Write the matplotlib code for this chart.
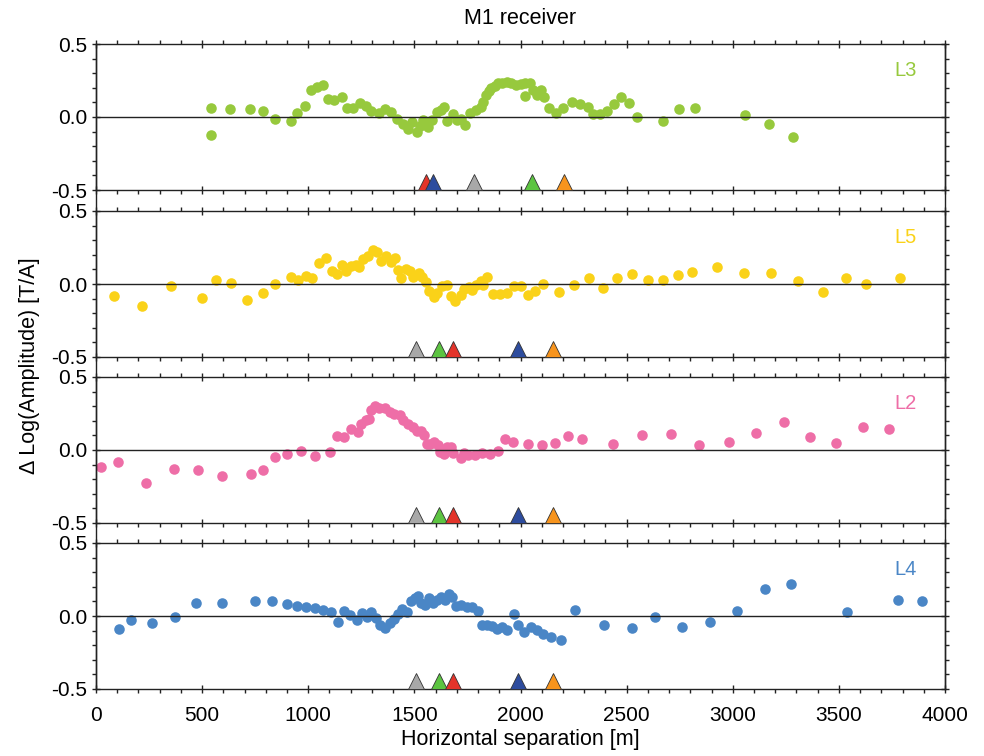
import numpy as np
import matplotlib
matplotlib.use('Agg')
import matplotlib.pyplot as plt
from matplotlib.ticker import MultipleLocator, FormatStrFormatter
from matplotlib.transforms import offset_copy
from matplotlib.lines import Line2D

plt.rcParams['font.family'] = ['Liberation Sans', 'DejaVu Sans']

# --- L3 profile
l3_x = [542, 542, 631, 726, 785, 845, 919, 947, 985, 1013, 1040, 1071, 1095, 1123,
        1158, 1184, 1212, 1244, 1271, 1296, 1333, 1362, 1390, 1417, 1448, 1471,
        1487, 1511, 1525, 1542, 1566, 1582, 1606, 1624, 1639, 1656, 1681, 1700,
        1718, 1739, 1764, 1790, 1813, 1825, 1838, 1850, 1863, 1880, 1896, 1915,
        1937, 1955, 1979, 2000, 2020, 2045, 2020, 2060, 2078, 2095, 2111, 2136,
        2169, 2202, 2244, 2280, 2318, 2343, 2373, 2406, 2439, 2475, 2509, 2547,
        2671, 2749, 2824, 3059, 3171, 3282]
l3_y = [0.062, -0.121, 0.053, 0.053, 0.041, -0.011, -0.025, 0.025, 0.073, 0.185,
        0.208, 0.221, 0.126, 0.116, 0.135, 0.064, 0.062, 0.094, 0.075, 0.041,
        0.025, 0.053, 0.034, -0.011, -0.048, -0.084, -0.032, -0.103, -0.06,
        -0.021, -0.071, -0.021, 0.037, 0.048, 0.071, -0.03, 0.021, -0.021,
        -0.016, -0.055, 0.025, 0.048, 0.071, 0.105, 0.151, 0.175, 0.196, 0.215,
        0.231, 0.235, 0.242, 0.235, 0.219, 0.225, 0.231, 0.231, 0.144, 0.185,
        0.151, 0.185, 0.139, 0.064, 0.03, 0.059, 0.103, 0.089, 0.071, 0.021,
        0.021, 0.043, 0.089, 0.135, 0.094, -0.002, -0.025, 0.053, 0.064, 0.016,
        -0.05, -0.135]

# --- L5 profile
l5_x = [86, 215, 352, 498, 567, 636, 710, 785, 845, 917, 950, 988, 1019, 1051,
        1082, 1112, 1134, 1159, 1176, 1200, 1224, 1239, 1259, 1282, 1304, 1325,
        1341, 1365, 1388, 1407, 1423, 1438, 1459, 1480, 1495, 1522, 1537, 1553,
        1569, 1592, 1608, 1632, 1652, 1671, 1691, 1718, 1734, 1757, 1773, 1789,
        1812, 1825, 1841, 1871, 1904, 1937, 1970, 2004, 2037, 2070, 2106, 2181,
        2250, 2322, 2390, 2456, 2525, 2600, 2671, 2741, 2807, 2926, 3052, 3179,
        3308, 3423, 3532, 3628, 3787]
l5_y = [-0.08, -0.148, -0.016, -0.096, 0.027, 0.007, -0.107, -0.062, -0.002,
        0.048, 0.027, 0.053, 0.039, 0.144, 0.178, 0.089, 0.066, 0.13, 0.091,
        0.121, 0.13, 0.116, 0.171, 0.189, 0.235, 0.217, 0.155, 0.189, 0.148,
        0.178, 0.098, 0.043, 0.103, 0.091, 0.048, 0.073, 0.046, 0.016, -0.046,
        -0.091, -0.062, -0.011, -0.007, -0.08, -0.114, -0.075, -0.034, -0.018,
        -0.039, -0.007, 0.023, -0.007, 0.046, -0.068, -0.068, -0.062, -0.011,
        -0.016, -0.075, -0.05, 0.0, -0.053, -0.007, 0.039, -0.03, 0.043, 0.068,
        0.03, 0.03, 0.062, 0.08, 0.114, 0.075, 0.075, 0.018, -0.053, 0.043,
        0.002, 0.039]

# --- L2 profile
l2_x = [24, 102, 234, 369, 479, 595, 729, 788, 843, 901, 966, 1032, 1102, 1137,
        1168, 1201, 1233, 1249, 1271, 1286, 1296, 1314, 1333, 1362, 1385, 1405,
        1432, 1448, 1471, 1495, 1511, 1531, 1547, 1558, 1574, 1594, 1613, 1621,
        1641, 1652, 1673, 1683, 1720, 1735, 1754, 1786, 1820, 1856, 1893, 1926,
        1966, 2035, 2101, 2164, 2226, 2292, 2436, 2571, 2709, 2843, 2984, 3108,
        3242, 3365, 3488, 3615, 3738]
l2_y = [-0.116, -0.082, -0.224, -0.128, -0.135, -0.18, -0.162, -0.135, -0.046,
        -0.027, -0.005, -0.043, -0.014, 0.096, 0.091, 0.146, 0.123, 0.18, 0.208,
        0.215, 0.274, 0.301, 0.288, 0.288, 0.26, 0.249, 0.242, 0.203, 0.18,
        0.158, 0.128, 0.128, 0.105, 0.043, 0.043, 0.055, 0.032, -0.014, -0.027,
        0.021, 0.021, -0.018, -0.055, -0.018, -0.037, -0.032, -0.018, -0.027,
        -0.005, 0.078, 0.055, 0.043, 0.037, 0.05, 0.096, 0.078, 0.041, 0.105,
        0.112, 0.037, 0.057, 0.119, 0.192, 0.091, 0.046, 0.16, 0.146]

# --- L4 profile
l4_x = [108, 165, 264, 372, 471, 594, 749, 829, 900, 947, 989, 1032, 1070, 1107,
        1140, 1168, 1197, 1230, 1253, 1277, 1296, 1319, 1338, 1362, 1385, 1404,
        1423, 1442, 1465, 1484, 1503, 1517, 1531, 1550, 1569, 1588, 1607, 1625,
        1644, 1663, 1677, 1696, 1720, 1748, 1771, 1800, 1819, 1842, 1866, 1889,
        1913, 1936, 1969, 1988, 2017, 2050, 2078, 2106, 2144, 2191, 2257, 2393,
        2525, 2634, 2761, 2893, 3020, 3152, 3275, 3538, 3779, 3892]
l4_y = [-0.09, -0.03, -0.05, -0.01, 0.09, 0.09, 0.1, 0.1, 0.08, 0.07, 0.06,
        0.055, 0.04, 0.03, -0.04, 0.035, 0.005, -0.03, 0.02, -0.01, 0.025,
        -0.015, -0.06, -0.08, -0.05, -0.02, 0.015, 0.05, 0.03, 0.1, 0.125, 0.14,
        0.09, 0.075, 0.125, 0.09, 0.11, 0.13, 0.11, 0.15, 0.13, 0.07, 0.075,
        0.06, 0.06, 0.035, -0.06, -0.06, -0.07, -0.09, -0.075, -0.095, 0.015,
        -0.06, -0.11, -0.075, -0.095, -0.12, -0.145, -0.165, 0.04, -0.065,
        -0.08, -0.005, -0.075, -0.04, 0.035, 0.185, 0.22, 0.025, 0.11, 0.1]

# station markers along the baseline
tri_l3_x = [1555, 1586, 1781, 2054, 2207]
tri_l3_c = ['#e3342a', '#2d4c9e', '#a8a8a8', '#5cc441', '#f7941d']
tri_x = [1506, 1616, 1680, 1990, 2152]
tri_c = ['#a8a8a8', '#5cc441', '#e3342a', '#2d4c9e', '#f7941d']

panels = [
    ('L3', l3_x, l3_y, '#97c93d', tri_l3_x, tri_l3_c),
    ('L5', l5_x, l5_y, '#fad219', tri_x, tri_c),
    ('L2', l2_x, l2_y, '#ee6ea7', tri_x, tri_c),
    ('L4', l4_x, l4_y, '#4a86c6', tri_x, tri_c),
]

fig = plt.figure(figsize=(9.84, 7.56), dpi=100)
left, width = 96 / 984, 849 / 984
height = 146 / 756
bottoms = [1 - 190 / 756, 1 - 357 / 756, 1 - 523 / 756, 1 - 689 / 756]

tri_ms = 11.5
axes = []
for i, (name, xs, ys, col, tx, tc) in enumerate(panels):
    ax = fig.add_axes([left, bottoms[i], width, height])
    axes.append(ax)
    ax.axhline(0, color='#222222', lw=1.0, zorder=3)
    ax.plot(xs, ys, 'o', ms=7.6, color=col, mec='none', zorder=2)

    # triangles sit with their base on the bottom axis
    tri_trans = offset_copy(ax.transData, fig=fig, y=tri_ms / 2, units='points')
    for xv, cv in zip(tx, tc):
        ax.plot([xv], [-0.5], marker='^', ms=tri_ms, color=cv, mec='#333333',
                mew=0.6, transform=tri_trans, clip_on=False, zorder=4)

    ax.text(0.953, 0.82, name, color=col, fontsize=14.5, transform=ax.transAxes,
            ha='center', va='center')

    ax.set_xlim(0, 4000)
    ax.set_ylim(-0.5, 0.5)
    ax.xaxis.set_major_locator(MultipleLocator(500))
    ax.xaxis.set_minor_locator(MultipleLocator(100))
    ax.yaxis.set_major_locator(MultipleLocator(0.5))
    ax.yaxis.set_minor_locator(MultipleLocator(0.1))
    ax.yaxis.set_major_formatter(FormatStrFormatter('%.1f'))
    ax.tick_params(which='both', top=True, right=True, direction='out',
                   labelsize=15, color='#222222', width=1.0)
    ax.tick_params(which='major', length=6, direction='inout')
    ax.tick_params(which='minor', length=3)
    ax.tick_params(axis='x', which='major', pad=9)
    for sp in ax.spines.values():
        sp.set_linewidth(1.0)
        sp.set_color('#222222')
    if i < 3:
        ax.tick_params(labelbottom=False)

axes[-1].set_xlabel('Horizontal separation [m]', fontsize=15.5, labelpad=3)

# vertical frame lines across the gaps between panels
top = bottoms[0] + height
bot = bottoms[-1]
for xf in (left, left + width):
    fig.add_artist(Line2D([xf, xf], [bot, top], color='#222222', lw=1.0,
                          transform=fig.transFigure))

fig.text(left + width / 2, 1 - 18 / 756, 'M1 receiver', fontsize=15.5,
         ha='center', va='center')
fig.text(30 / 984, 1 - 366 / 756, '\u0394 Log(Amplitude) [T/A]', fontsize=15.5,
         rotation=90, ha='center', va='center')

fig.savefig('out.png', dpi=100)
